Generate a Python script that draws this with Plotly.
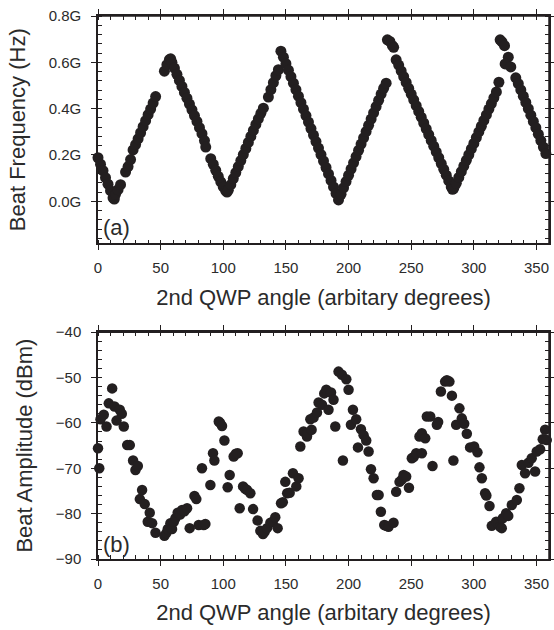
import plotly.graph_objects as go

# ---------------- data ----------------
# (a) beat frequency, in GHz, vs 2nd QWP angle
freq_angle = [0, 2, 4, 6, 8, 10, 12, 13, 14, 16, 18,
              22, 24, 26, 28, 30, 32, 34, 36, 38, 40, 42, 44, 46,
              53, 55, 57, 58, 59, 61, 63, 65, 67, 69, 71, 73, 75, 77, 79, 81, 83, 85, 86,
              90, 92, 94, 96, 98, 100, 102, 103, 104, 106, 108, 110, 112, 114, 116, 118,
              120, 122, 124, 126, 128, 130, 132,
              136, 138, 140, 142, 144,
              146, 148, 150, 152, 154, 156, 158, 160, 162, 164, 166, 168, 170, 172, 174,
              176, 178, 180, 182, 184, 186, 188, 190, 192,
              194, 196, 198, 200, 202, 204, 206, 208, 210, 212, 214, 216, 218, 220, 222,
              224, 226, 228, 230,
              231, 233, 235, 236, 238, 240, 242, 244, 246, 248, 250, 252, 254, 256, 258,
              260, 262, 264, 266, 268, 270, 272, 274, 276, 278, 280, 282, 283, 284,
              286, 288, 290, 292, 294, 296, 298, 300, 302, 304, 306, 308, 310, 312, 314,
              316, 318, 320,
              321, 322.5, 324.5, 327.5, 325, 329.5, 333.5, 335.5, 337.5, 339.5, 341.5,
              343.5, 345.5, 347.5, 349.5, 351.5, 353.5, 355.5, 357.5]
freq_ghz = [0.188, 0.160, 0.132, 0.102, 0.074, 0.046, 0.015, 0.010, 0.030, 0.050, 0.072,
            0.126, 0.150, 0.180, 0.222, 0.245, 0.270, 0.296, 0.322, 0.348, 0.374, 0.398, 0.424, 0.452,
            0.562, 0.590, 0.612, 0.615, 0.600, 0.575, 0.548, 0.522, 0.496, 0.470, 0.445, 0.420, 0.395,
            0.370, 0.345, 0.318, 0.292, 0.262, 0.234,
            0.184, 0.160, 0.134, 0.108, 0.084, 0.062, 0.045, 0.040, 0.048, 0.072, 0.098, 0.124, 0.150,
            0.176, 0.202, 0.228, 0.254, 0.280, 0.306, 0.332, 0.356, 0.380, 0.402,
            0.450, 0.482, 0.512, 0.542, 0.568,
            0.648, 0.622, 0.594, 0.566, 0.538, 0.510, 0.482, 0.454, 0.426, 0.398, 0.370, 0.342,
            0.314, 0.286, 0.258, 0.230, 0.202, 0.174, 0.146, 0.118, 0.090, 0.062, 0.034, 0.006,
            0.030, 0.058, 0.085, 0.112, 0.139, 0.166, 0.193, 0.220, 0.247, 0.274, 0.301, 0.328,
            0.355, 0.382, 0.409, 0.436, 0.463, 0.488, 0.510,
            0.697, 0.690, 0.672, 0.665, 0.611, 0.588, 0.563, 0.538, 0.513, 0.488, 0.463, 0.438,
            0.413, 0.388, 0.363, 0.338, 0.313, 0.288, 0.263, 0.238, 0.213, 0.188, 0.163, 0.138,
            0.113, 0.088, 0.062, 0.052, 0.056,
            0.078, 0.103, 0.128, 0.152, 0.177, 0.201, 0.226, 0.250, 0.275, 0.300, 0.324, 0.349,
            0.373, 0.398, 0.422, 0.447, 0.472, 0.514,
            0.697, 0.688, 0.672, 0.622, 0.593, 0.580, 0.533, 0.508, 0.481, 0.454, 0.427,
            0.400, 0.372, 0.345, 0.318, 0.290, 0.262, 0.234, 0.206]

# (b) beat amplitude, in dBm, vs 2nd QWP angle
amp_angle = [0, 1, 2, 4.6, 6.8, 8.6, 11.3, 13.2, 14.8, 17.4, 19, 20.6, 23.3, 25.4, 28, 29.9,
             31.8, 33.4, 35.2, 37.3, 39.7, 41.3, 43.2, 45.9, 53, 54.5, 55.7, 57.8, 59.1, 60.5,
             61.8, 63.6, 65.5, 67.1, 69, 71.1, 73.2, 77, 78.5, 80.4, 83, 84.4, 85.7, 89.7,
             91.8, 92.9, 96.4, 97.5, 99, 100.9, 103.5, 105.1, 108.3, 110, 111.5, 113.1, 115.8,
             117.5, 119, 121.6, 123.8, 127.4, 129.6, 131.7, 133, 134.9, 137.6, 139.5, 141.5,
             143.4, 146.1, 147.5, 149.5, 151, 153, 155.6, 158.3, 160.1, 161.5, 164.1, 166.8,
             167.3, 169.5, 170.5, 172.1, 174.8, 176.1, 178.8, 180.6, 182.2, 184, 186, 188,
             189.4, 192, 194.7, 195.5, 198.2, 200, 201.9, 203.5, 206.1, 207.5, 209.9, 212,
             214.1, 216, 217.9, 220, 222.6, 224, 225.8, 228.5, 230, 231.9, 235.9, 238, 240.7,
             242.5, 243.9, 246, 248.2, 250.5, 252, 254, 256.6, 258.5, 261.2, 258.5, 262.5,
             265.2, 267, 270.5, 271.5, 273.7, 277.1, 278.5, 280.5, 282.5, 283.7, 285.9, 288.5,
             290.4, 292.3, 294.4, 297, 300.2, 302.9, 304.5, 306.4, 309, 310, 312.5, 314.3,
             317.8, 319.5, 321, 322.3, 323.1, 325.8, 327.5, 330.3, 334.3, 336.4, 338.3, 340.9,
             343.6, 346.2, 348.9, 350.2, 352.9, 355, 356.9, 358.2]
amp_dbm = [-65.6, -70.0, -59.2, -58.2, -60.8, -55.7, -52.4, -56.4, -59.5, -57.1, -58.0, -60.8,
           -64.9, -64.9, -68.3, -70.4, -69.5, -76.8, -74.8, -77.9, -81.8, -79.8, -82.1, -84.2,
           -84.9, -84.3, -83.4, -82.1, -83.4, -81.8, -81.0, -79.8, -80.2, -79.2, -79.5, -78.8,
           -83.2, -76.1, -76.8, -82.5, -70.0, -82.5, -82.3, -73.7, -66.7, -68.3, -59.7, -60.0,
           -60.7, -63.9, -74.2, -71.5, -67.4, -66.8, -66.7, -78.8, -74.0, -74.5, -74.8, -75.5,
           -79.0, -81.5, -83.8, -84.5, -84.0, -83.2, -82.0, -81.8, -80.8, -83.2, -77.7, -77.5,
           -73.0, -75.5, -75.4, -71.1, -74.0, -72.2, -65.2, -61.9, -63.0, -62.3, -59.2, -61.5,
           -58.8, -57.7, -55.5, -56.0, -53.5, -52.7, -57.1, -53.3, -54.9, -60.8, -48.7, -49.4,
           -68.3, -50.4, -52.7, -60.4, -57.1, -59.2, -65.4, -61.4, -62.7, -63.9, -66.3, -70.2,
           -72.2, -75.9, -75.9, -79.6, -82.5, -82.7, -82.9, -82.0, -75.2, -73.0, -72.5, -71.5,
           -71.8, -74.3, -67.8, -67.5, -66.7, -63.0, -62.3, -63.4, -66.7, -58.6, -58.6, -69.5,
           -60.4, -59.8, -53.1, -50.9, -50.6, -50.9, -54.0, -68.3, -60.4, -56.8, -59.0, -60.2,
           -62.4, -65.4, -65.2, -66.5, -69.8, -72.2, -75.5, -76.0, -78.3, -82.7, -81.8, -82.3,
           -82.9, -83.2, -81.0, -79.9, -80.5, -78.1, -77.0, -74.4, -69.3, -71.1, -68.8, -67.8,
           -70.7, -66.3, -65.8, -63.6, -61.5, -63.8]

x_ticks = [0, 50, 100, 150, 200, 250, 300, 350]
freq_ticks = [0.0, 0.2, 0.4, 0.6, 0.8]
freq_tick_text = ["0.0G", "0.2G", "0.4G", "0.6G", "0.8G"]
amp_ticks = [-90, -80, -70, -60, -50, -40]

# ---------------- figure ----------------
INK = "#231f20"
TXT = "#2b2b2b"
FONT = "Liberation Sans, Arial, sans-serif"
LW = 1.5

fig = go.Figure()
fig.add_trace(go.Scatter(x=freq_angle, y=freq_ghz, mode="markers",
                         marker=dict(size=11, color=INK), xaxis="x", yaxis="y",
                         showlegend=False, hoverinfo="skip", cliponaxis=False))
fig.add_trace(go.Scatter(x=amp_angle, y=amp_dbm, mode="markers",
                         marker=dict(size=10.5, color=INK), xaxis="x2", yaxis="y2",
                         showlegend=False, hoverinfo="skip", cliponaxis=False))

axis_common = dict(showline=True, linecolor=INK, linewidth=LW, mirror="allticks",
                   ticks="outside", ticklen=5, tickwidth=1.2, tickcolor=INK,
                   showgrid=False, zeroline=False, automargin=False,
                   ticklabeloverflow="allow",
                   tickfont=dict(family=FONT, size=15, color=TXT))

xaxis_common = dict(axis_common, range=[0, 360], tickvals=x_ticks,
                    minor=dict(ticks="inside", ticklen=4, dtick=10, tick0=0,
                               tickcolor=INK, tickwidth=1, showgrid=False),
                    ticklabelstandoff=5,
                    title=dict(text="2nd QWP angle (arbitary degrees)",
                               font=dict(family=FONT, size=22, color=TXT), standoff=14))

inner_x = dict(range=[0, 360], tickvals=x_ticks, ticks="inside", ticklen=5,
               tickwidth=1.2, tickcolor=INK, showticklabels=False, showline=False,
               showgrid=False, zeroline=False, mirror="ticks", automargin=False)

fig.update_layout(
    width=554, height=630,
    margin=dict(l=97.5, r=5, t=15.7, b=71),
    plot_bgcolor="white", paper_bgcolor="white",
    font=dict(family=FONT, color=TXT),
    xaxis=dict(xaxis_common, domain=[0, 1], anchor="y"),
    yaxis=dict(axis_common, domain=[0.5811, 1], anchor="x", range=[-0.182, 0.8],
               tickvals=freq_ticks, ticktext=freq_tick_text, ticklabelstandoff=7,
               minor=dict(ticks="inside", ticklen=4, dtick=0.04, tick0=0,
                          tickcolor=INK, tickwidth=1, showgrid=False),
               title=dict(text="Beat Frequency (Hz)",
                          font=dict(family=FONT, size=22, color=TXT), standoff=17)),
    xaxis2=dict(xaxis_common, domain=[0, 1], anchor="y2"),
    yaxis2=dict(axis_common, domain=[0, 0.4178], anchor="x2", range=[-90, -40],
                tickvals=amp_ticks, ticklabelstandoff=7,
                minor=dict(ticks="inside", ticklen=4, dtick=2, tick0=0,
                           tickcolor=INK, tickwidth=1, showgrid=False),
                title=dict(text="Beat Amplitude (dBm)",
                           font=dict(family=FONT, size=22, color=TXT), standoff=17)),
    xaxis3=dict(inner_x, overlaying="x", anchor="y"),
    xaxis4=dict(inner_x, overlaying="x2", anchor="y2"),
    yaxis3=dict(range=[-0.182, 0.8], tickvals=freq_ticks, ticks="inside", ticklen=5,
                tickwidth=1.2, tickcolor=INK, showticklabels=False, showline=False,
                showgrid=False, zeroline=False, mirror="ticks", automargin=False,
                overlaying="y", anchor="x"),
    yaxis4=dict(range=[-90, -40], tickvals=amp_ticks, ticks="inside", ticklen=5,
                tickwidth=1.2, tickcolor=INK, showticklabels=False, showline=False,
                showgrid=False, zeroline=False, mirror="ticks", automargin=False,
                overlaying="y2", anchor="x2"),
    shapes=[
        dict(type="line", xref="paper", yref="paper", x0=0, x1=1, y0=1, y1=1,
             line=dict(color=INK, width=LW), layer="above"),
        dict(type="line", xref="paper", yref="paper", x0=1, x1=1, y0=0.5811, y1=1,
             line=dict(color=INK, width=LW), layer="above"),
        dict(type="line", xref="paper", yref="paper", x0=0, x1=1, y0=0.4178, y1=0.4178,
             line=dict(color=INK, width=LW), layer="above"),
        dict(type="line", xref="paper", yref="paper", x0=1, x1=1, y0=0, y1=0.4178,
             line=dict(color=INK, width=LW), layer="above"),
    ],
    annotations=[
        dict(text="(a)", xref="x domain", yref="y domain", x=0.042, y=0.072,
             xanchor="center", yanchor="middle",
             showarrow=False, font=dict(family=FONT, size=22, color=TXT)),
        dict(text="(b)", xref="x2 domain", yref="y2 domain", x=0.042, y=0.062,
             xanchor="center", yanchor="middle",
             showarrow=False, font=dict(family=FONT, size=22, color=TXT)),
    ],
)

# Remove the default page margin so the 554x630 figure fills the window exactly.
fig.write_html("out.html",
               config={"displayModeBar": False},
               post_script="document.body.style.margin='0';"
                           "document.body.style.overflow='hidden';")
